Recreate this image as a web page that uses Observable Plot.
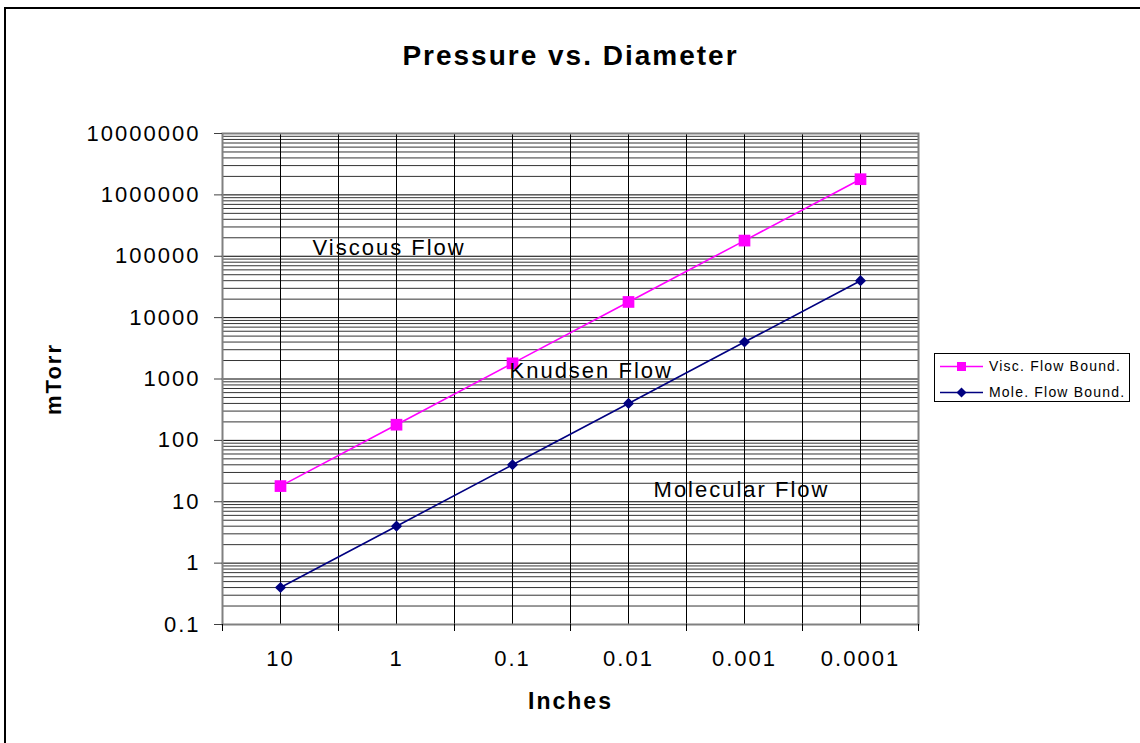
<!DOCTYPE html>
<html><head><meta charset="utf-8">
<script src="https://cdn.jsdelivr.net/npm/d3@7"></script>
<script src="https://cdn.jsdelivr.net/npm/@observablehq/plot@0.6"></script>
<style>
html,body{margin:0;padding:0;background:#fff;overflow:hidden}
#wrap{position:relative;width:1140px;height:743px;overflow:hidden;font-family:"Liberation Sans",Arial,sans-serif;background:#fff}
#border{position:absolute;left:4px;top:7px;width:1300px;height:900px;border-left:2px solid #000;border-top:2px solid #000;box-sizing:border-box}
#chart{position:absolute;left:0;top:0}
#legend{position:absolute;left:934px;top:353px;width:196px;height:49px;border:1px solid #000;background:#fff;font-size:14px;letter-spacing:1.2px;box-sizing:border-box;color:#000}
.item{position:absolute;left:5px;height:20px;display:flex;align-items:center;white-space:nowrap}
.item svg{margin-right:6px}
</style></head>
<body>
<div id="wrap">
  <div id="border"></div>
  <div id="chart"></div>
  <div id="legend"></div>
</div>
<script>
const categories = ["10", "1", "0.1", "0.01", "0.001", "0.0001"];
const viscous = [18, 180, 1800, 18000, 180000, 1800000];
const molecular = [0.4, 4, 40, 400, 4000, 40000];
const yTicks = [0.1, 1, 10, 100, 1000, 10000, 100000, 1000000, 10000000];
const seriesNames = ["Visc. Flow Bound.", "Mole. Flow Bound."];
const seriesColors = ["#FF00FF", "#000080"];
const regionLabels = ["Viscous Flow", "Knudsen Flow", "Molecular Flow"];
const regionX = [0.276, 1.974, 3.216];
const regionY = [134000, 1376, 15.3];

const font = '"Liberation Sans", Arial, sans-serif';
const idx = categories.map((_, i) => i);
const boundaries = d3.range(categories.length + 1).map(i => i - 0.5);
const vGrid = boundaries.concat(idx);
const minor = [];
yTicks.slice(0, -1).forEach(d => { for (let k = 2; k <= 9; k++) minor.push(d * k); });

const rows = idx.map(i => ({i, visc: viscous[i], mole: molecular[i]}));
const regions = regionLabels.map((t, j) => ({t, x: regionX[j], y: regionY[j]}));

const chart = Plot.plot({
  width: 1140, height: 743,
  marginLeft: 222, marginRight: 222, marginTop: 133, marginBottom: 119,
  x: {type: "linear", domain: [-0.5, categories.length - 0.5], axis: null},
  y: {type: "log", domain: [0.1, 10000000], axis: null},
  style: {fontFamily: font, background: "transparent", color: "#000", letterSpacing: "2px", overflow: "visible"},
  marks: [
    Plot.gridY(minor, {stroke: "#000", strokeOpacity: 0.8}),
    Plot.gridY(yTicks, {stroke: "#000", strokeOpacity: 1}),
    Plot.gridX(vGrid, {stroke: "#000", strokeOpacity: 1}),
    Plot.frame({stroke: "#808080", strokeWidth: 2}),
    Plot.axisY(yTicks, {tickSize: 8, tickPadding: 14, tickFormat: d => String(d), fontSize: 22, stroke: "#404040", fill: "#000", label: null}),
    Plot.axisX(boundaries, {tickSize: 7, tickFormat: () => "", stroke: "#000", label: null}),
    Plot.axisX(idx, {tickSize: 0, tickPadding: 26, tickFormat: i => categories[i], fontSize: 22, fill: "#000", label: null}),
    Plot.line(rows, {x: "i", y: "visc", stroke: seriesColors[0], strokeWidth: 1.6}),
    Plot.dot(rows, {x: "i", y: "visc", symbol: "square", r: 6.6, fill: seriesColors[0], stroke: "none"}),
    Plot.line(rows, {x: "i", y: "mole", stroke: seriesColors[1], strokeWidth: 1.6}),
    Plot.dot(rows, {x: "i", y: "mole", symbol: "diamond2", r: 5, fill: seriesColors[1], stroke: "none"}),
    Plot.text(regions, {x: "x", y: "y", text: "t", textAnchor: "start", fontSize: 22, fill: "#000"}),
    Plot.text(["Pressure vs. Diameter"], {frameAnchor: "top", dy: -77, lineAnchor: "middle", textAnchor: "middle", fontSize: 28, fontWeight: "bold", fill: "#000"}),
    Plot.text(["Inches"], {frameAnchor: "bottom", dy: 77, lineAnchor: "middle", textAnchor: "middle", fontSize: 23, fontWeight: "bold", fill: "#000"}),
    Plot.text(["mTorr"], {frameAnchor: "left", dx: -169, rotate: -90, lineAnchor: "middle", textAnchor: "middle", fontSize: 22, fontWeight: "bold", fill: "#000"})
  ]
});
document.getElementById("chart").appendChild(chart);

// legend
const legend = document.getElementById("legend");
const symbols = [
  '<rect x="17" y="2" width="9" height="9" fill="' + seriesColors[0] + '"/>',
  '<path d="M21.5,1.5 L26.5,6.5 L21.5,11.5 L16.5,6.5 Z" fill="' + seriesColors[1] + '"/>'
];
seriesNames.forEach((name, j) => {
  const div = document.createElement("div");
  div.className = "item";
  div.style.top = (j === 0 ? 2 : 28) + "px";
  div.innerHTML = '<svg width="43" height="13"><line x1="0" x2="43" y1="6.5" y2="6.5" stroke="' + seriesColors[j] + '" stroke-width="1.6"/>' + symbols[j] + '</svg><span>' + name + '</span>';
  legend.appendChild(div);
});
</script>
</body></html>
